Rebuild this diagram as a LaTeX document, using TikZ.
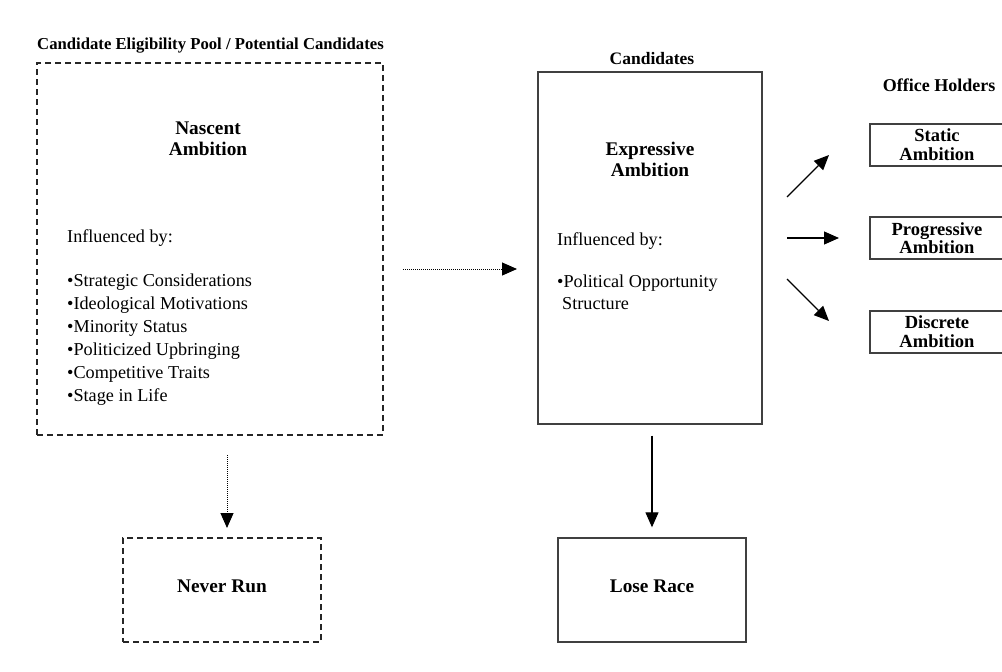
\documentclass[tikz,border=0pt]{standalone}
\usepackage{fontspec}
\setmainfont{Liberation Serif}
\usetikzlibrary{arrows.meta}
\newcommand{\bodyfont}{\fontsize{18.2}{21}\selectfont}
\newcommand{\headfont}{\fontsize{19.3}{21}\selectfont\bfseries}
\newcommand{\smallhead}{\fontsize{18.5}{18}\selectfont\bfseries}
\tikzset{
  dbox/.style={draw=black!85, line width=1.1pt, dash pattern=on 6pt off 4pt, inner sep=0pt},
  sbox/.style={draw=black!75, line width=1.4pt, inner sep=0pt},
  txt/.style={inner sep=0pt, anchor=base west, font=\bodyfont},
  hd/.style={inner sep=0pt, anchor=base, font=\headfont},
  sh/.style={inner sep=0pt, anchor=base, font=\smallhead},
  tip/.style={-{Triangle[length=15pt,width=13pt]}},
  solidarrow/.style={tip, line width=1.2pt, black},
  dotarrow/.style={tip, line width=1pt, black, dash pattern=on 1pt off 1pt}
}
\begin{document}
\begin{tikzpicture}[x=1pt,y=-1pt]
\clip (0,0) rectangle (1002,672);
\fill[white] (0,0) rectangle (1002,672);
% headings
\node[hd, font=\fontsize{16.7}{18}\selectfont\bfseries, anchor=base west] (title) at (37,49) {Candidate Eligibility Pool / Potential Candidates};
\node[hd, font=\fontsize{17.5}{18}\selectfont\bfseries] (candh) at (652,64) {Candidates};
\node[hd, font=\fontsize{18}{18}\selectfont\bfseries] (offh) at (939,91) {Office Holders};
% nascent box
\node[dbox, minimum width=346pt, minimum height=372pt] (nascent) at (210,249) {};
\node[hd] (nas1) at (208,134) {Nascent};
\node[hd] (nas2) at (208,155) {Ambition};
\node[txt] (inf1) at (67,242) {Influenced by:};
\node[txt] (b1) at (67,286) {•Strategic Considerations};
\node[txt] (b2) at (67,309) {•Ideological Motivations};
\node[txt] (b3) at (67,332) {•Minority Status};
\node[txt] (b4) at (67,355) {•Politicized Upbringing};
\node[txt] (b5) at (67,378) {•Competitive Traits};
\node[txt] (b6) at (67,401) {•Stage in Life};
% expressive box
\node[sbox, minimum width=224pt, minimum height=352pt] (expr) at (650,248) {};
\node[hd] (ex1) at (650,155) {Expressive};
\node[hd] (ex2) at (650,176) {Ambition};
\node[txt] (inf2) at (557,245) {Influenced by:};
\node[txt] (p1) at (557,287) {•Political Opportunity};
\node[txt] (p2) at (562,309) {Structure};
% bottom boxes
\node[dbox, minimum width=198pt, minimum height=104pt] (never) at (222,590) {};
\node[hd] (nevert) at (222,592) {Never Run};
\node[sbox, minimum width=188pt, minimum height=104pt] (lose) at (652,590) {};
\node[hd] (loset) at (652,592) {Lose Race};
% office holder boxes
\node[sbox, minimum width=140pt, minimum height=42pt] (static) at (940,145) {};
\node[sh] (st1) at (937,141) {Static};
\node[sh] (st2) at (937,160) {Ambition};
\node[sbox, minimum width=140pt, minimum height=42pt] (prog) at (940,238) {};
\node[sh] (pr1) at (937,235) {Progressive};
\node[sh] (pr2) at (937,253) {Ambition};
\node[sbox, minimum width=140pt, minimum height=42pt] (disc) at (940,332) {};
\node[sh] (di1) at (937,328) {Discrete};
\node[sh] (di2) at (937,347) {Ambition};
% connector ends
\coordinate (d1s) at (403,269);
\coordinate (d1e) at (517,269);
\coordinate (d2s) at (227,455);
\coordinate (d2e) at (227,528);
\coordinate (a1s) at (787,197);
\coordinate (a1e) at (829,155);
\coordinate (a2s) at (787,238);
\coordinate (a2e) at (839,238);
\coordinate (a3s) at (787,279);
\coordinate (a3e) at (829,321);
% connectors
\draw[dotarrow] (d1s) -- (d1e);
\draw[dotarrow] (d2s) -- (d2e);
\draw[solidarrow] ([yshift=-11pt]expr.south -| lose.north) -- ([yshift=10pt]lose.north);
\draw[solidarrow] (a1s) -- (a1e);
\draw[solidarrow] (a2s) -- (a2e);
\draw[solidarrow] (a3s) -- (a3e);
\end{tikzpicture}
\end{document}
